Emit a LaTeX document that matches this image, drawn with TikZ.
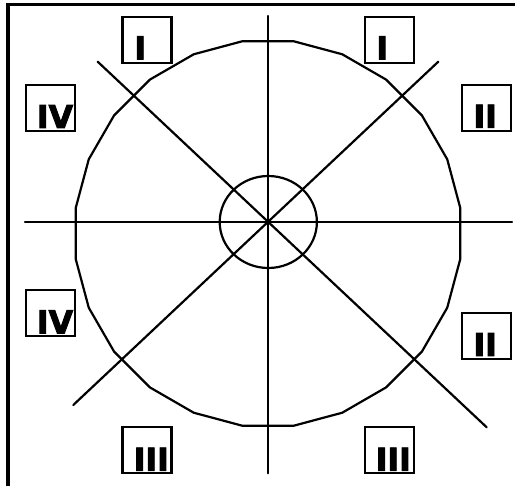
\documentclass[tikz,border=0pt]{standalone}
\usepackage{fontspec}
\newfontfamily\numfont[FakeBold=3]{DejaVu Sans Bold}
\begin{document}
\begin{tikzpicture}[x=1pt,y=-1pt,
  ln/.style={line width=2.2pt,line cap=round,line join=round},
  frame/.style={line width=3.2pt},
  box/.style={draw,line width=2.2pt,minimum width=49pt,minimum height=46pt,inner sep=0pt},
  lbl/.style={inner sep=0pt,font=\numfont\fontsize{31.5}{32}\selectfont,anchor=base}]
\useasboundingbox (0,0) rectangle (515,486);
% frame
\draw[frame] (8,486) -- (8,4.3) -- (515,4.3);
% centre of cross and circle
\coordinate (c) at (268.3,222);
\coordinate (pc) at (268,233.5);
% large polygonal circle
\draw[ln,shift={(pc)}] (7.5:194) \foreach \a in {22.5,37.5,...,352.5} {-- (\a:194)} -- cycle;
% small circle
\draw[ln] (c) ellipse [x radius=48.6, y radius=46];
% cross lines
\coordinate (vt) at (268.3,16);
\coordinate (vb) at (268.3,473.3);
\coordinate (hl) at (25,222);
\coordinate (hr) at (512,222);
\coordinate (d1a) at (97.7,61.7);
\coordinate (d1b) at (486.7,427.3);
\coordinate (d2a) at (438.3,61.7);
\coordinate (d2b) at (73.3,405);
\draw[ln] (vt) -- (vb);
\draw[ln] (hl) -- (hr);
\draw[ln] (d1a) -- (d1b);
\draw[ln] (d2a) -- (d2b);
% boxes
\node[box] (b1) at (147,39.7) {};
\node[box] (b2) at (389.5,39.7) {};
\node[box] (b3) at (50.2,108) {};
\node[box] (b4) at (486.3,108.3) {};
\node[box] (b5) at (50.2,313.3) {};
\node[box] (b6) at (486.3,336.3) {};
\node[box] (b7) at (147,450) {};
\node[box] (b8) at (389.5,450) {};
% labels
\node[lbl] (l1) at (140.3,59.3) {I};
\node[lbl] (l2) at (382.2,59.3) {I};
\node[lbl] (l3) at (55,128) {IV};
\node[lbl] (l4) at (485.2,127.7) {II};
\node[lbl] (l5) at (55,333.3) {IV};
\node[lbl] (l6) at (485.2,356) {II};
\node[lbl] (l7) at (151.3,470.7) {III};
\node[lbl] (l8) at (393.3,470.7) {III};
\end{tikzpicture}
\end{document}
